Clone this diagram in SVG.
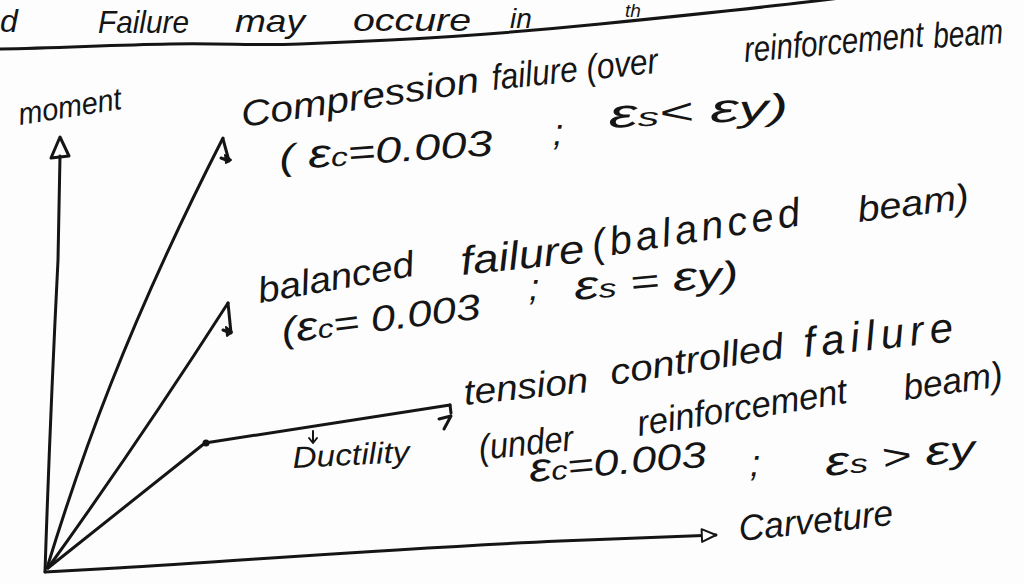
<svg xmlns="http://www.w3.org/2000/svg" width="1024" height="584" viewBox="0 0 1024 584">
<defs>
<style>
.t{font-family:"Liberation Sans",Arial,sans-serif;font-size:36px;fill:#151515;font-style:italic}
.s{font-size:32px}
.d{font-size:30px}
.e{font-size:40px}
.sub{font-size:26px}
.ln{fill:none;stroke:#151515;stroke-width:3;stroke-linecap:round;stroke-linejoin:round}
.mk{fill:#151515;stroke:#151515;stroke-width:2;stroke-linejoin:round}
</style>
<marker id="openHead" viewBox="0 0 12 12" refX="11" refY="6" markerWidth="17" markerHeight="17" markerUnits="userSpaceOnUse" orient="auto">
<path d="M1,1.5 L11,6 L1,10.5 Z" fill="#fff" stroke="#151515" stroke-width="1.4" stroke-linejoin="round"/>
</marker>
</defs>
<rect width="1024" height="584" fill="#fdfdfd"/>

<g id="connectors">
<path class="ln" d="M0,49 C60,48 110,45 170,44 S250,46 300,44 S350,42 390,40 S520,32 600,24 S760,8 840,-2"/>
<path class="ln" d="M45,572 C48,480 52,380 58,260 L60,156"/>
<path class="ln" d="M60,137 L51,158 L69,156 Z"/>
<path class="ln" d="M45,572 L117,568 C250,560 400,548 560,541 L716,535" marker-end="url(#openHead)"/>
<path class="ln" d="M47,568 C80,460 125,330 223,138"/>
<path class="ln" d="M48,568 Q140,440 228,303"/>
<path class="ln" d="M48,568 L205,443 L450,405"/>
<circle class="mk" cx="206" cy="443" r="2.5"/>
<path class="ln" d="M223,139 L229,161 L221,158"/>
<path class="mk" d="M225,155 L231,160 L226,163 Z"/>
<path class="ln" d="M228,303 L231,333 L223,330"/>
<path class="mk" d="M226,327 L232,332 L227,336 Z"/>
<path class="ln" d="M450,405 L451,413 M439,419 L451,416 L444,429"/>
<path class="ln" d="M313,431 L313,442 M309,438 L313,443 L317,438" style="stroke-width:2"/>
</g>

<g id="title">
<text class="t s" x="0" y="32">d</text>
<text class="t s" x="98" y="33" textLength="91" lengthAdjust="spacingAndGlyphs">Failure</text>
<text class="t s" x="235" y="32" textLength="70" lengthAdjust="spacingAndGlyphs">may</text>
<text class="t s" x="353" y="31" textLength="118" lengthAdjust="spacingAndGlyphs">occure</text>
<text class="t s" x="510" y="28" style="font-size:28px">in</text>
<text class="t s" x="625" y="17" style="font-size:19px">th</text>
</g>

<g id="moment-label">
<text class="t s" x="20" y="125" textLength="104" lengthAdjust="spacingAndGlyphs" style="font-size:31px" transform="rotate(-9 20 125)">moment</text>
</g>

<g id="compression-label">
<text class="t" x="243" y="127" textLength="240" lengthAdjust="spacingAndGlyphs" transform="rotate(-8.5 243 127)">Compression</text>
<text class="t" x="493" y="90" textLength="167" lengthAdjust="spacingAndGlyphs" transform="rotate(-6 493 90)">failure (over</text>
<text class="t" x="745" y="62" textLength="180" lengthAdjust="spacingAndGlyphs" transform="rotate(-5 745 62)">reinforcement</text>
<text class="t" x="934" y="48" textLength="70" lengthAdjust="spacingAndGlyphs" transform="rotate(-4 934 48)">beam</text>
<text class="t" x="280" y="170" textLength="214" lengthAdjust="spacingAndGlyphs" transform="rotate(-4 280 170)">( <tspan class="e">ε</tspan><tspan class="sub">c</tspan>=0.003</text>
<text class="t" x="553" y="145">;</text>
<text class="t" x="609" y="128" textLength="180" lengthAdjust="spacingAndGlyphs" transform="rotate(-3 609 128)"><tspan class="e">ε</tspan><tspan class="sub">s</tspan>&lt; <tspan class="e">ε</tspan>y)</text>
</g>

<g id="balanced-label">
<text class="t" x="260" y="303" textLength="158" lengthAdjust="spacingAndGlyphs" transform="rotate(-10 260 303)">balanced</text>
<text class="t" x="462" y="275" textLength="124" lengthAdjust="spacingAndGlyphs" style="font-size:40px" transform="rotate(-6 462 275)">failure</text>
<text class="t" x="594" y="258" textLength="210" lengthAdjust="spacing" style="font-size:40px" transform="rotate(-9 594 258)">(balanced</text>
<text class="t" x="859" y="222" textLength="112" lengthAdjust="spacingAndGlyphs" transform="rotate(-7 859 222)">beam)</text>
<text class="t" x="283" y="343" textLength="200" lengthAdjust="spacingAndGlyphs" transform="rotate(-7 283 343)">(<tspan class="e">ε</tspan><tspan class="sub">c</tspan>= 0.003</text>
<text class="t" x="529" y="300">;</text>
<text class="t" x="575" y="300" textLength="165" lengthAdjust="spacingAndGlyphs" transform="rotate(-5 575 300)"><tspan class="e">ε</tspan><tspan class="sub">s</tspan> = <tspan class="e">ε</tspan>y)</text>
</g>

<g id="tension-label">
<text class="t" x="465" y="405" textLength="125" lengthAdjust="spacingAndGlyphs" transform="rotate(-6 465 405)">tension</text>
<text class="t" x="612" y="385" textLength="175" lengthAdjust="spacingAndGlyphs" transform="rotate(-9 612 385)">controlled</text>
<text class="t" x="805" y="357" textLength="150" lengthAdjust="spacing" style="font-size:42px" transform="rotate(-6 805 357)">failure</text>
<text class="t" x="480" y="460" textLength="95" lengthAdjust="spacingAndGlyphs" transform="rotate(-6 480 460)">(under</text>
<text class="t" x="639" y="436" textLength="212" lengthAdjust="spacingAndGlyphs" transform="rotate(-9 639 436)">reinforcement</text>
<text class="t" x="905" y="400" textLength="100" lengthAdjust="spacingAndGlyphs" transform="rotate(-8 905 400)">beam)</text>
<text class="t" x="530" y="482" textLength="178" lengthAdjust="spacingAndGlyphs" transform="rotate(-5 530 482)"><tspan class="e">ε</tspan><tspan class="sub">c</tspan>=0.003</text>
<text class="t" x="750" y="476">;</text>
<text class="t" x="826" y="476" textLength="151" lengthAdjust="spacingAndGlyphs" transform="rotate(-6 826 476)"><tspan class="e">ε</tspan><tspan class="sub">s</tspan> &gt; <tspan class="e">ε</tspan>y</text>
</g>

<g id="ductility-label">
<text class="t d" x="293" y="468" textLength="117" lengthAdjust="spacingAndGlyphs" transform="rotate(-3 293 468)">Ductility</text>
</g>

<g id="curvature-label">
<text class="t" x="740" y="541" textLength="155" lengthAdjust="spacingAndGlyphs" transform="rotate(-6 740 541)">Carveture</text>
</g>
</svg>
